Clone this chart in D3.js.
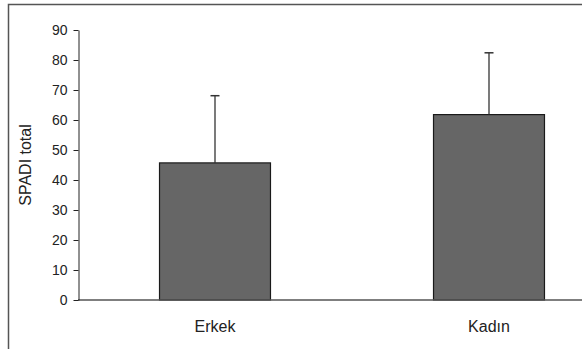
<!DOCTYPE html>
<html>
<head>
<meta charset="utf-8">
<script src="https://cdn.jsdelivr.net/npm/d3@7"></script>
<style>
  body { margin: 0; background: #fff; }
  text { font-family: "Liberation Sans", Arial, sans-serif; fill: #222; }
</style>
</head>
<body>
<svg id="chart" width="582" height="349"></svg>
<script>
// SPADI total by sex, mean with upper SD bar
const categories = ['Erkek', 'Kadın']
const means = [45.7, 61.8]
const upperErr = [68.1, 82.4]
const yTicks = [0, 10, 20, 30, 40, 50, 60, 70, 80, 90]

const svg = d3.select('#chart')

// outer frame (only top and left are visible, chart is cropped at right/bottom)
svg.append('path')
  .attr('d', 'M8.5,349 V4.5 H582')
  .attr('fill', 'none')
  .attr('stroke', '#555')
  .attr('stroke-width', 1.5)

const y = d3.scaleLinear().domain([0, 90]).range([300, 30])
const x = d3.scaleBand().domain(categories).range([78, 626]).paddingInner(0.595).paddingOuter(0.2975)

const g = svg.append('g')

// bars
g.selectAll('rect.bar')
  .data(categories)
  .join('rect')
  .attr('class', 'bar')
  .attr('x', d => x(d))
  .attr('width', x.bandwidth())
  .attr('y', (d, i) => y(means[i]))
  .attr('height', (d, i) => y(0) - y(means[i]))
  .attr('fill', '#666666')
  .attr('stroke', '#1a1a1a')
  .attr('stroke-width', 1.2)

// error bars
const cx = d => x(d) + x.bandwidth() / 2
g.selectAll('line.err')
  .data(categories)
  .join('line')
  .attr('class', 'err')
  .attr('x1', cx).attr('x2', cx)
  .attr('y1', (d, i) => y(means[i]))
  .attr('y2', (d, i) => y(upperErr[i]))
  .attr('stroke', '#333')
  .attr('stroke-width', 1.3)
g.selectAll('line.cap')
  .data(categories)
  .join('line')
  .attr('class', 'cap')
  .attr('x1', d => cx(d) - 4.5).attr('x2', d => cx(d) + 4.5)
  .attr('y1', (d, i) => y(upperErr[i]))
  .attr('y2', (d, i) => y(upperErr[i]))
  .attr('stroke', '#333')
  .attr('stroke-width', 1.5)

// x axis baseline
svg.append('line')
  .attr('x1', 78).attr('x2', 582)
  .attr('y1', y(0)).attr('y2', y(0))
  .attr('stroke', '#555')
  .attr('stroke-width', 1.5)

// y axis
const yAxis = svg.append('g')
  .attr('transform', 'translate(78.5,0)')
  .call(d3.axisLeft(y).tickValues(yTicks).tickSize(5).tickPadding(6).tickSizeOuter(0))
yAxis.select('.domain').attr('stroke', '#222')
yAxis.selectAll('.tick line').attr('stroke', '#222')
yAxis.selectAll('.tick text')
  .style('font-size', '14px')
  .attr('fill', '#222')

// category labels
svg.selectAll('text.cat')
  .data(categories)
  .join('text')
  .attr('class', 'cat')
  .attr('x', cx)
  .attr('y', 332)
  .attr('text-anchor', 'middle')
  .style('font-size', '16px')
  .text(d => d)

// y axis title
svg.append('text')
  .attr('transform', 'translate(31,165) rotate(-90)')
  .attr('text-anchor', 'middle')
  .style('font-size', '16px')
  .text('SPADI total')
</script>
</body>
</html>
